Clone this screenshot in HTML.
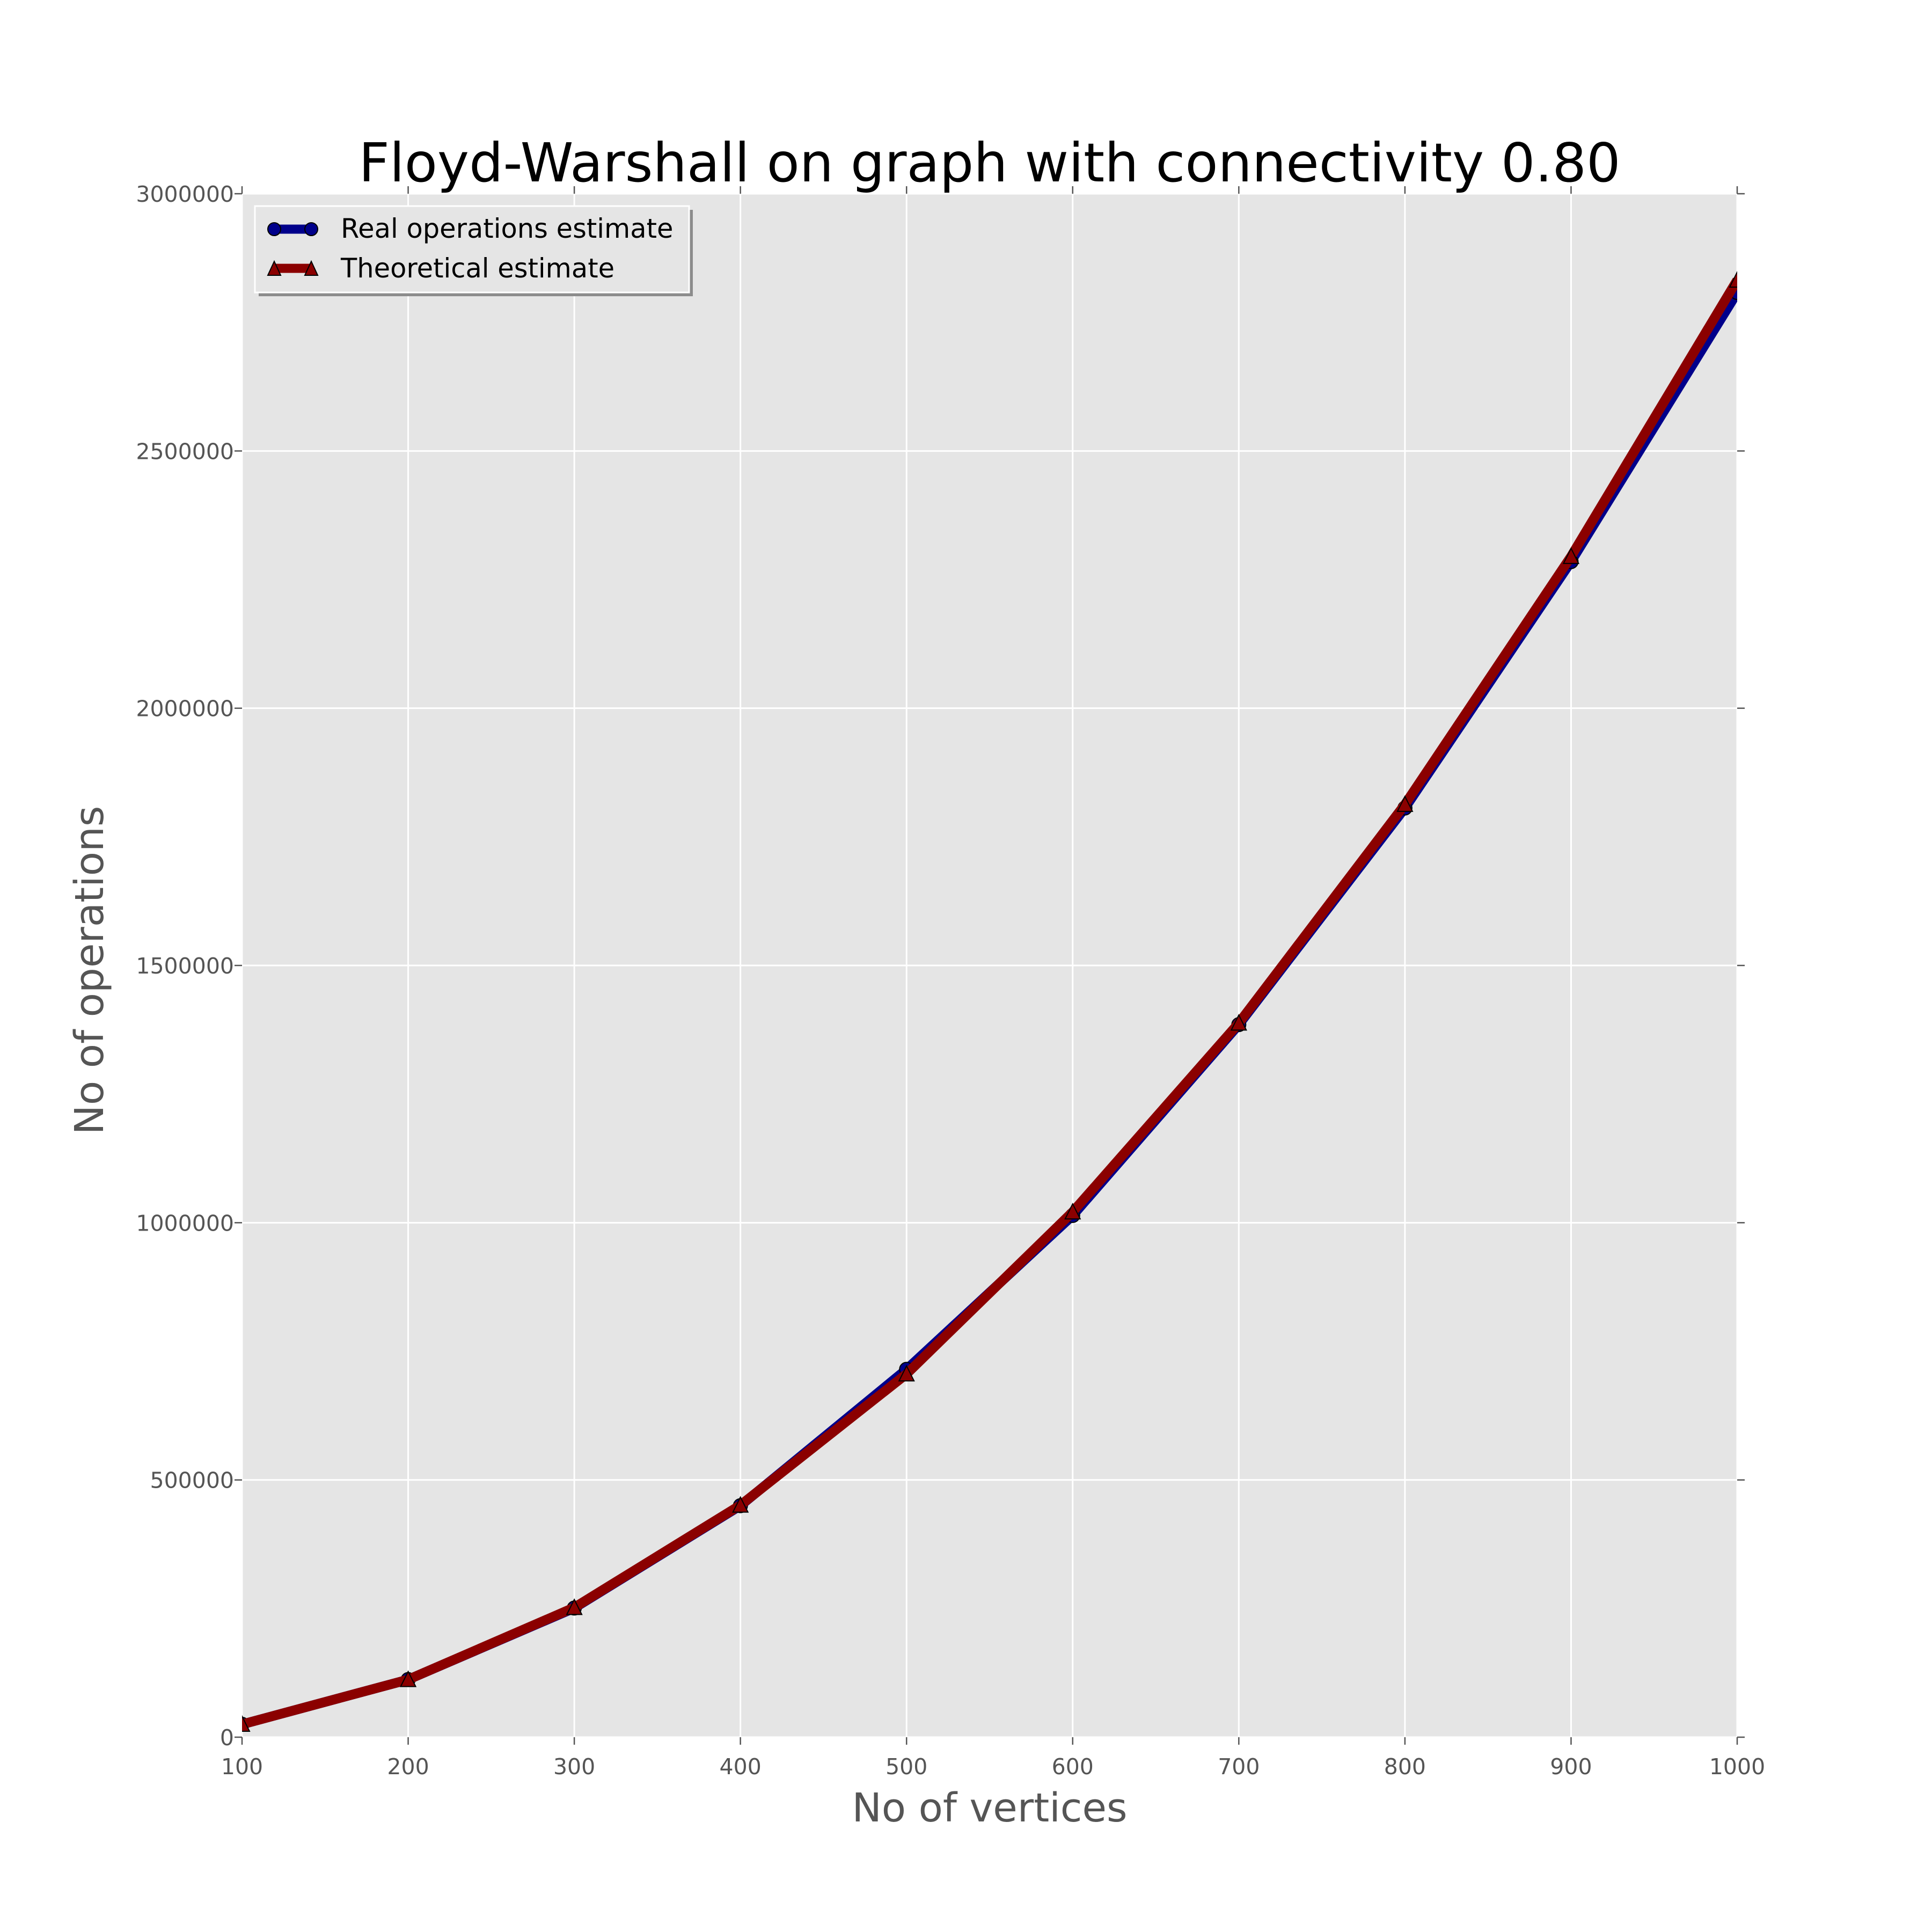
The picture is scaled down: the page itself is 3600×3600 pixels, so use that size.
<!DOCTYPE html>
<html><head><meta charset="utf-8"><style>
html,body{margin:0;padding:0;background:#fff;}
svg{display:block;font-family:"DejaVu Sans","Liberation Sans",sans-serif;}
</style></head><body>
<svg id="chart" width="3600" height="3600" viewBox="0 0 3600 3600" xmlns="http://www.w3.org/2000/svg">
<rect width="3600" height="3600" fill="#fff"/>
<text x="1844" y="338" font-size="100" text-anchor="middle" fill="#000">Floyd-Warshall on graph with connectivity 0.80</text>
<rect x="451" y="361" width="2786" height="2876" fill="#e5e5e5"/>
<g id="grid"></g>
<g id="ticks"></g>
<g id="series"></g>
<text x="1844" y="3394" font-size="74" text-anchor="middle" fill="#555">No of vertices</text>
<text x="0" y="0" transform="translate(192,1808) rotate(-90)" font-size="74" text-anchor="middle" fill="#555">No of operations</text>
<g>
  <rect x="482" y="391" width="809" height="161" fill="#8c8c8c"/>
  <rect x="475" y="384" width="809" height="161" fill="#e5e5e5" stroke="#fff" stroke-width="3"/>
  <g>
    <line x1="511" y1="427" x2="580" y2="427" stroke="#00008b" stroke-width="17"/>
    <circle cx="511" cy="427" r="12" fill="#00008b" stroke="#000" stroke-width="2"/>
    <circle cx="580" cy="427" r="12" fill="#00008b" stroke="#000" stroke-width="2"/>
    <text x="635" y="443" font-size="49.5" fill="#000">Real operations estimate</text>
  </g>
  <g>
    <line x1="511" y1="500" x2="580" y2="500" stroke="#8b0000" stroke-width="17"/>
    <polygon points="511,487 499,513 523,513" fill="#8b0000" stroke="#000" stroke-width="2"/>
    <polygon points="580,487 568,513 592,513" fill="#8b0000" stroke="#000" stroke-width="2"/>
    <text x="635" y="517" font-size="49.5" fill="#000">Theoretical estimate</text>
  </g>
</g>
</svg>
<script>
const xCategories = [100,200,300,400,500,600,700,800,900,1000];
const realValues = [25000,112000,251000,450000,715000,1014000,1385000,1806000,2285000,2808000];
const theoValues = [25000,112000,252000,451000,706000,1021000,1388000,1813000,2295000,2832000];
const xTickLabels = ["100","200","300","400","500","600","700","800","900","1000"];
const yTickValues = [0,500000,1000000,1500000,2000000,2500000,3000000];
const yTickLabels = ["0","500000","1000000","1500000","2000000","2500000","3000000"];

const L=451,R=3237,T=361,B=3237;
const sx=v=>L+(v-100)/900*(R-L);
const sy=v=>B-v/3000000*(B-T);
const NS="http://www.w3.org/2000/svg";
function mk(tag,attrs,parent){const e=document.createElementNS(NS,tag);for(const k in attrs)e.setAttribute(k,attrs[k]);parent.appendChild(e);return e;}
const grid=document.getElementById('grid'),ticks=document.getElementById('ticks'),series=document.getElementById('series');
xCategories.forEach((v,i)=>{
  const x=sx(v);
  const g=mk('line',{x1:x,y1:T,x2:x,y2:B,stroke:'#fff','stroke-width':3},grid);
  
  
  mk('line',{x1:x,y1:B,x2:x,y2:B+14,stroke:'#555','stroke-width':2.5},ticks);
  mk('line',{x1:x,y1:T,x2:x,y2:T-14,stroke:'#555','stroke-width':2.5},ticks);
  const t=mk('text',{x:x,y:3306,'font-size':41,'text-anchor':'middle',fill:'#555'},ticks);
  t.textContent=xTickLabels[i];
  
  
});
yTickValues.forEach((v,i)=>{
  const y=sy(v);
  const g=mk('line',{x1:L,y1:y,x2:R,y2:y,stroke:'#fff','stroke-width':3},grid);
  
  
  mk('line',{x1:L,y1:y,x2:L-14,y2:y,stroke:'#555','stroke-width':2.5},ticks);
  mk('line',{x1:R,y1:y,x2:R+14,y2:y,stroke:'#555','stroke-width':2.5},ticks);
  const t=mk('text',{x:436,y:y+15,'font-size':41,'text-anchor':'end',fill:'#555'},ticks);
  t.textContent=yTickLabels[i];
  
  
});
function drawSeries(vals,color,name,marker){
  const g=mk('g',{},series);
  
  
  const pts=vals.map((v,i)=>sx(xCategories[i])+','+sy(v)).join(' ');
  mk('polyline',{points:pts,fill:'none',stroke:color,'stroke-width':18,'stroke-linejoin':'round'},g);
  vals.forEach((v,i)=>{
    const x=sx(xCategories[i]),y=sy(v);
    let m;
    if(marker==='circle') m=mk('circle',{cx:x,cy:y,r:13,fill:color,stroke:'#000','stroke-width':2},g);
    else m=mk('polygon',{points:`${x},${y-15} ${x-14},${y+13} ${x+14},${y+13}`,fill:color,stroke:'#000','stroke-width':2},g);
    
    
  });
}
const clip=mk('clipPath',{id:'pc'},document.getElementById('chart'));
mk('rect',{x:L,y:T,width:R-L,height:B-T},clip);
series.setAttribute('clip-path','url(#pc)');
drawSeries(realValues,'#00008b','real-operations-series','circle');
drawSeries(theoValues,'#8b0000','theoretical-series','triangle');
</script>
</body></html>
